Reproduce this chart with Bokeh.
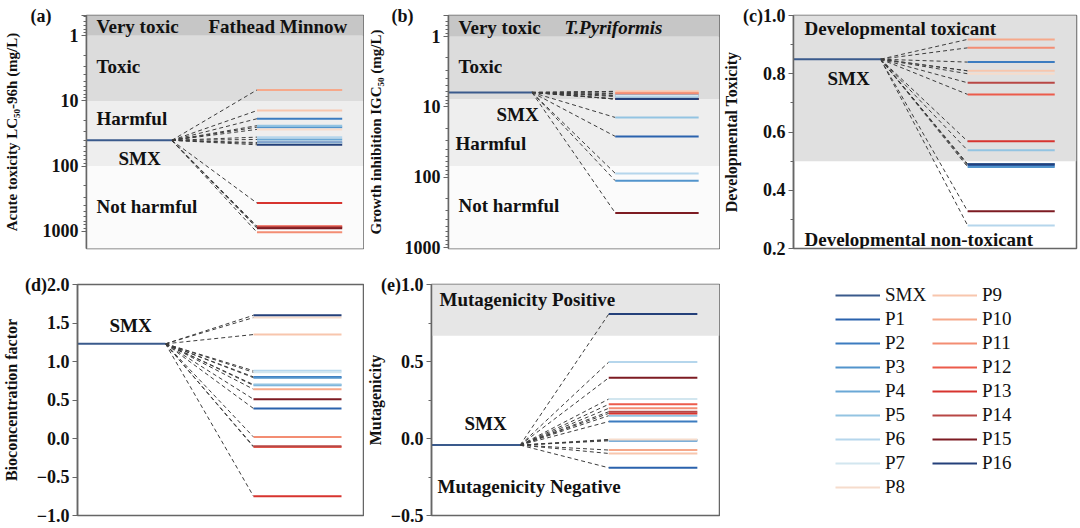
from bokeh.plotting import figure
from bokeh.models import Range1d, Label, Legend, LegendItem, CustomJSTickFormatter, FixedTicker
from bokeh.layouts import column, row
from bokeh.embed import file_html
from bokeh.resources import INLINE

# ---------------- data ----------------
names = ["SMX"] + [f"P{i}" for i in range(1, 17)]
colors = ["#3a5a8c", "#2a62ad", "#3c7cc0", "#5294cc", "#6aa8d6", "#93c4e2", "#b5d6ec",
          "#d2e6ef", "#f6dccc", "#f8c6ad", "#f6a88a", "#f38d73", "#ec5b4b", "#d7342f",
          "#b84745", "#7d1b22", "#24407a"]

# (a) Acute toxicity LC50-96h (mg/L), Fathead Minnow
smx_a = 40.3
prod_a = [43.5, 18.8, 25.3, 39.1, 24.0, 36.0, 45.0, 27.4, 14.1, 6.8,
          1035, 835, 370, 870, 898, 47.2]
bands_a = [0.1, 1, 10, 100, 1e5]
ticks_log = [1, 10, 100, 1000]
minor_log = [m * d for d in (0.1, 1, 10, 100, 1000) for m in range(2, 10)]

# (b) Growth inhibition IGC50 (mg/L), T.Pyriformis
smx_b = 6.2
prod_b = [26.2, 6.8, 112, 7.1, 14.1, 88, 6.9, 6.0, 6.0, 6.4,
          6.4, 7.7, 7.7, 7.7, 321, 7.7]
bands_b = [0.1, 1, 7.7, 69, 1e5]

# (c) Developmental toxicity
smx_c = 0.85
prod_c = [0.485, 0.84, 0.48, 0.49, 0.537, 0.279, 0.81, 0.80, 0.81, 0.918,
          0.889, 0.729, 0.568, 0.769, 0.328, 0.489]
bands_c = [0.5, 1.5]
ticks_c = [0.2, 0.4, 0.6, 0.8, 1.0]
minor_c = [0.3, 0.5, 0.7, 0.9]

# (d) Bioconcentration factor
smx_d = 1.23
prod_d = [0.39, 0.80, 0.79, 0.69, 0.70, 0.88, 0.86, 1.57, 1.35, 0.64,
          0.02, -0.11, -0.75, -0.10, 0.51, 1.60]
ticks_d = [-1.0, -0.5, 0.0, 0.5, 1.0, 1.5, 2.0]

# (e) Mutagenicity
smx_e = -0.043
prod_e = [-0.19, 0.11, -0.015, -0.01, 0.148, 0.496, 0.256, -0.006, -0.097, -0.075,
          0.196, 0.222, 0.163, 0.174, 0.394, 0.808]
bands_e = [0.668, 1.5]
ticks_e = [-0.5, 0.0, 0.5, 1.0]
minor_e = [-0.25, 0.25, 0.75]

band_colors_a = ["#c6c6c6", "#dcdcdc", "#eeeeee", "#fbfbfb"]

FONT = "Liberation Serif"
FRAME_H = 233
FRAME_W = 290
XR = (0, 3.25)
X_S0, X_S1, X_P0, X_P1 = 0, 1, 2, 3
NB = "\u00a0"


def make_panel(y_range, log, width, left, top, bottom, ylabel, label_size,
               label_standoff, ticks, minor, overrides):
    p = figure(width=width, height=top + FRAME_H + bottom,
               x_range=Range1d(*XR), y_range=y_range,
               y_axis_type="log" if log else "linear",
               output_backend="svg", toolbar_location=None,
               min_border_left=left, min_border_right=width - left - FRAME_W,
               min_border_top=top, min_border_bottom=bottom)
    p.xaxis.visible = False
    p.xgrid.visible = False
    p.ygrid.visible = False
    p.outline_line_color = "#666666"
    p.outline_line_width = 1.5
    p.background_fill_color = "white"
    p.border_fill_color = "white"
    ax = p.yaxis[0]
    ax.axis_line_color = "#666666"
    ax.axis_line_width = 1.5
    ax.major_tick_line_color = "#666666"
    ax.minor_tick_line_color = "#666666"
    ax.major_tick_out = 5
    ax.major_tick_in = 0
    ax.minor_tick_out = 3
    ax.minor_tick_in = 0
    ax.major_label_text_font = FONT
    ax.major_label_text_font_style = "bold"
    ax.major_label_text_font_size = "18px"
    ax.major_label_text_color = "#111111"
    ax.major_label_standoff = 3
    ax.axis_label = ylabel
    ax.axis_label_text_font = FONT
    ax.axis_label_text_font_style = "bold"
    ax.axis_label_text_font_size = label_size
    ax.axis_label_text_color = "#111111"
    ax.axis_label_standoff = label_standoff
    ax.ticker = FixedTicker(ticks=ticks, minor_ticks=minor)
    if log:
        ax.formatter = CustomJSTickFormatter(code="return String(Math.round(tick));")
    else:
        ax.formatter = CustomJSTickFormatter(code="return tick.toFixed(1).replace('-', '\u2212');")
    ax.major_label_overrides = overrides
    return p


def add_bands(p, edges, cols):
    for i, c in enumerate(cols):
        p.quad(left=XR[0], right=XR[1], bottom=edges[i], top=edges[i + 1],
               fill_color=c, line_color=None)


def add_lines(p, smx, vals):
    n = len(vals)
    p.segment(x0=[X_S1] * n, y0=[smx] * n, x1=[X_P0] * n, y1=vals,
              line_color="#3c3c3c", line_width=1, line_dash="4 3")
    p.segment(x0=[X_S0], y0=[smx], x1=[X_S1], y1=[smx], line_color=colors[0], line_width=2)
    p.segment(x0=[X_P0] * n, y0=vals, x1=[X_P1] * n, y1=vals,
              line_color=colors[1:], line_width=2)


def txt(p, s, dx, dy, size="19px", style="bold"):
    p.add_layout(Label(x=dx, y=FRAME_H - dy, x_units="screen", y_units="screen",
                       text=s, text_font=FONT, text_font_style=style,
                       text_font_size=size, text_baseline="middle", text_align="left",
                       text_color="#111111"))


# ---------- row 1 ----------
TOP_A = 0.49
pa = make_panel(Range1d(1840, TOP_A), True, 364, 73, 15, 17,
                "Acute toxicity LC\u2085\u2080-96h (mg/L)", "15px", 8,
                [TOP_A] + ticks_log, minor_log, {TOP_A: "(a)" + NB * 6})
add_bands(pa, bands_a, band_colors_a)
add_lines(pa, smx_a, prod_a)
for s, dx, dy in [("Very toxic", 10, 11), ("Fathead Minnow", 122, 11), ("Toxic", 10, 51),
                  ("Harmful", 10, 103), ("SMX", 32, 143), ("Not harmful", 10, 191)]:
    txt(pa, s, dx, dy)

TOP_B = 0.5
pb = make_panel(Range1d(1030, TOP_B), True, 356, 65, 15, 17,
                "Growth inhibition IGC\u2085\u2080 (mg/L)", "15px", 5,
                [TOP_B] + ticks_log, minor_log, {TOP_B: "(b)" + NB * 6})
add_bands(pb, bands_b, band_colors_a)
add_lines(pb, smx_b, prod_b)
for s, dx, dy in [("Very toxic", 10, 12), ("Toxic", 10, 51), ("SMX", 48, 99),
                  ("Harmful", 7, 128), ("Not harmful", 10, 190)]:
    txt(pb, s, dx, dy)
txt(pb, "T.Pyriformis", 116, 12, style="bold italic")

pc = make_panel(Range1d(0.2, 1.0), False, 360, 66, 15, 17,
                "Developmental Toxicity", "16px", 0,
                ticks_c, minor_c, {1.0: "(c)1.0", 1: "(c)1.0"})
add_bands(pc, bands_c, ["#e0e0e0"])
add_lines(pc, smx_c, prod_c)
for s, dx, dy in [("Developmental toxicant", 11, 13), ("SMX", 34, 63),
                  ("Developmental non-toxicant", 11, 224)]:
    txt(pc, s, dx, dy)

# ---------- row 2 ----------
pd_ = make_panel(Range1d(-1.0, 2.0), False, 364, 73, 17, 13,
                 "Bioconcentration factor", "16px", 2,
                 ticks_d, [], {2.0: "(d)2.0", 2: "(d)2.0"})
add_lines(pd_, smx_d, prod_d)
txt(pd_, "SMX", 32, 43)

pe = make_panel(Range1d(-0.5, 1.0), False, 356, 65, 17, 13,
                "Mutagenicity", "16px", -6,
                ticks_e, minor_e, {1.0: "(e)1.0", 1: "(e)1.0"})
add_bands(pe, bands_e, ["#e6e6e6"])
add_lines(pe, smx_e, prod_e)
for s, dx, dy in [("Mutagenicity Positive", 8, 17), ("SMX", 33, 141),
                  ("Mutagenicity Negative", 6, 204)]:
    txt(pe, s, dx, dy)


# legend panels
def legend_fig(width, left, names_, cols_):
    f = figure(width=width, height=17 + FRAME_H + 13, x_range=Range1d(0, 1), y_range=Range1d(0, 1),
               output_backend="svg", toolbar_location=None,
               min_border_left=left, min_border_right=0, min_border_top=19, min_border_bottom=0)
    f.axis.visible = False
    f.xgrid.visible = False
    f.ygrid.visible = False
    f.outline_line_color = None
    f.background_fill_color = None
    f.border_fill_color = "white"
    items = []
    for n, c in zip(names_, cols_):
        r = f.line(x=[5, 6], y=[5, 5], line_color=c, line_width=2)
        items.append(LegendItem(label=n, renderers=[r]))
    lg = Legend(items=items, location="top_left", padding=0, margin=0, spacing=2,
                glyph_width=45, glyph_height=22, label_height=22, label_standoff=5,
                label_text_font=FONT, label_text_font_size="19px",
                label_text_color="#111111", border_line_color=None,
                background_fill_alpha=0)
    f.add_layout(lg)
    return f


pf1 = legend_fig(212, 115, names[:9], colors[:9])
pf2 = legend_fig(148, 0, names[9:], colors[9:])

layout = column(row(pa, pb, pc), row(pd_, pe, pf1, pf2))
open("out.html", "w").write(file_html(layout, INLINE))
